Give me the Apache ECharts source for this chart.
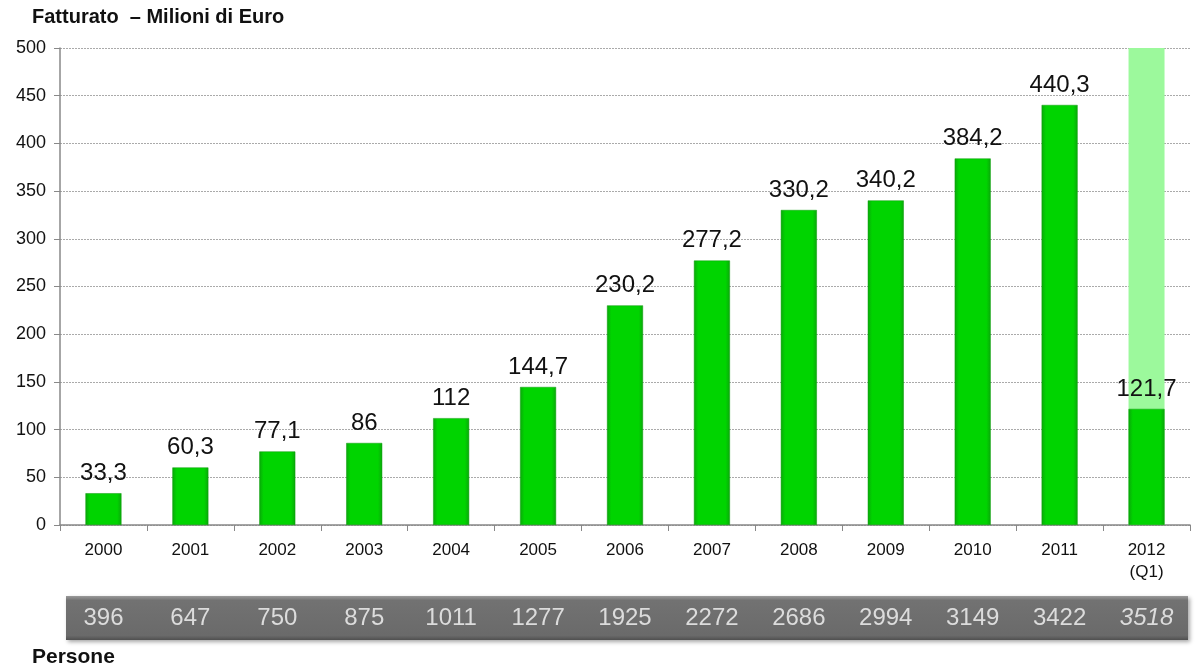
<!DOCTYPE html>
<html>
<head>
<meta charset="utf-8">
<script src="https://cdn.jsdelivr.net/npm/echarts@6/dist/echarts.min.js"></script>
<style>
  html, body { margin: 0; padding: 0; background: #fff; }
  #chart { width: 1195px; height: 670px; }
</style>
</head>
<body>
<div id="chart"></div>
<script>
// --- Data ---
const years = ['2000', '2001', '2002', '2003', '2004', '2005', '2006', '2007', '2008', '2009', '2010', '2011', '2012\n(Q1)'];
const fatturato = [33.3, 60.3, 77.1, 86, 112, 144.7, 230.2, 277.2, 330.2, 340.2, 384.2, 440.3, 121.7];
const persone = [396, 647, 750, 875, 1011, 1277, 1925, 2272, 2686, 2994, 3149, 3422, 3518];
// light bar behind the partial year
const anno2012Sfondo = [null, null, null, null, null, null, null, null, null, null, null, null, 500];
const yTicks = { min: 0, max: 500, interval: 50 };

const chart = echarts.init(document.getElementById('chart'));

const greenBar = new echarts.graphic.LinearGradient(0, 0, 1, 0, [
    { offset: 0, color: '#0aa80a' },
    { offset: 0.12, color: '#00d400' },
    { offset: 0.88, color: '#00d400' },
    { offset: 1, color: '#0aa80a' }
]);

const fmt = v => String(v).replace('.', ',');

const option = {
    animation: false,
    textStyle: { fontFamily: 'Liberation Sans, Arial, sans-serif' },
    grid: { left: 60, right: 5, top: 48, bottom: 145 },
    graphic: [
        {
            type: 'text', left: 32, top: 7, z: 10,
            style: { text: 'Fatturato  – Milioni di Euro', font: 'bold 20px "Liberation Sans", Arial', fill: '#111' }
        },
        {
            type: 'text', left: 32, top: 647, z: 10,
            style: { text: 'Persone', font: 'bold 21px "Liberation Sans", Arial', fill: '#111' }
        },
        {
            type: 'rect', left: 66, top: 596, z: 0,
            shape: { width: 1122, height: 44 },
            style: {
                fill: new echarts.graphic.LinearGradient(0, 0, 0, 1, [
                    { offset: 0, color: '#9a9a9a' },
                    { offset: 0.1, color: '#727272' },
                    { offset: 0.9, color: '#6a6a6a' },
                    { offset: 1, color: '#505050' }
                ]),
                shadowBlur: 4, shadowOffsetX: 2, shadowOffsetY: 2, shadowColor: 'rgba(0,0,0,0.35)'
            }
        }
    ],
    xAxis: [
        {
            type: 'category',
            data: years,
            axisLine: { lineStyle: { color: '#888', width: 1.5 } },
            axisTick: { show: true, length: 6, lineStyle: { color: '#888' } },
            axisLabel: { color: '#111', fontSize: 17, margin: 14, lineHeight: 22 }
        },
        {
            type: 'category',
            data: years,
            position: 'bottom',
            offset: 80,
            z: 10,
            axisLine: { show: false },
            axisTick: { show: false },
            axisLabel: {
                margin: 1,
                formatter: (v, i) => i === persone.length - 1 ? '{it|' + persone[i] + '}' : '{n|' + persone[i] + '}',
                rich: {
                    n: { color: '#dcdcdc', fontSize: 24 },
                    it: { color: '#dcdcdc', fontSize: 24, fontStyle: 'italic' }
                }
            }
        }
    ],
    yAxis: {
        type: 'value',
        min: yTicks.min, max: yTicks.max, interval: yTicks.interval,
        axisLine: { show: true, lineStyle: { color: '#888', width: 1.5 } },
        axisTick: { show: true, length: 6, lineStyle: { color: '#888' } },
        axisLabel: { color: '#111', fontSize: 18, margin: 14 },
        splitLine: { lineStyle: { color: '#aaa', type: [2, 1] } }
    },
    series: [
        {
            type: 'bar',
            data: anno2012Sfondo,
            barWidth: 36,
            barGap: '-100%',
            itemStyle: { color: '#9cf99c' },
            silent: true
        },
        {
            type: 'bar',
            data: fatturato,
            barWidth: 36,
            itemStyle: {
                color: greenBar,
                borderColor: '#0a9a0a',
                borderWidth: 0.5
            },
            label: {
                show: true,
                position: 'top',
                distance: 8,
                fontSize: 24,
                color: '#111',
                formatter: p => fmt(p.value)
            }
        }
    ]
};

chart.setOption(option);
</script>
</body>
</html>
